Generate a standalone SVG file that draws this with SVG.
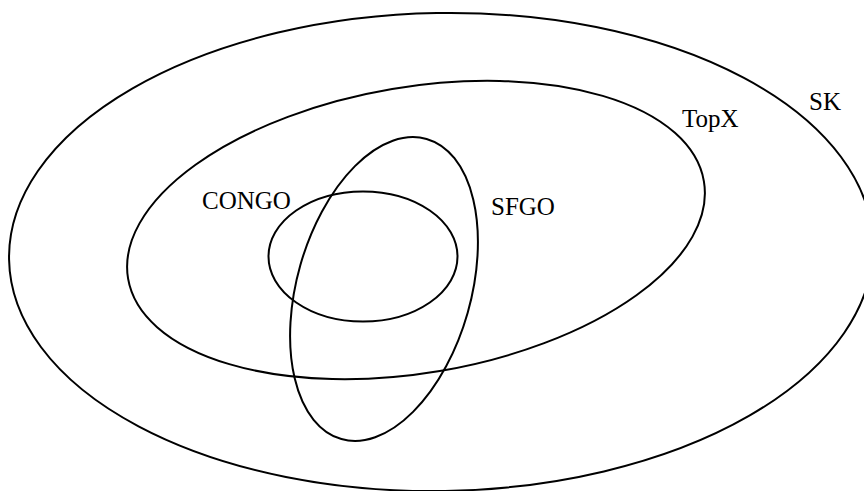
<svg xmlns="http://www.w3.org/2000/svg" width="864" height="491" viewBox="0 0 864 491">
<style>
.set{fill:none;stroke:#000;stroke-width:2}
.lbl{font-family:"Liberation Serif","Times New Roman",serif;font-size:25px;fill:#000}
</style>
<rect width="864" height="491" fill="#fff"/>
<g id="SK">
<ellipse class="set" cx="441" cy="252" rx="432" ry="239" transform="rotate(-1 441 252)"/>
<text class="lbl" x="809" y="110">SK</text>
</g>
<g id="TopX">
<ellipse class="set" cx="416" cy="230" rx="292" ry="143" transform="rotate(-9.6 416 230)"/>
<text class="lbl" x="682" y="127">TopX</text>
</g>
<g id="SFGO">
<ellipse class="set" cx="384" cy="289" rx="87" ry="156" transform="rotate(15.85 384 289)"/>
<text class="lbl" x="491" y="215">SFGO</text>
</g>
<g id="CONGO">
<ellipse class="set" cx="363" cy="256.5" rx="94.5" ry="65"/>
<text class="lbl" x="202" y="209">CONGO</text>
</g>
<g id="connectors"/>
</svg>
